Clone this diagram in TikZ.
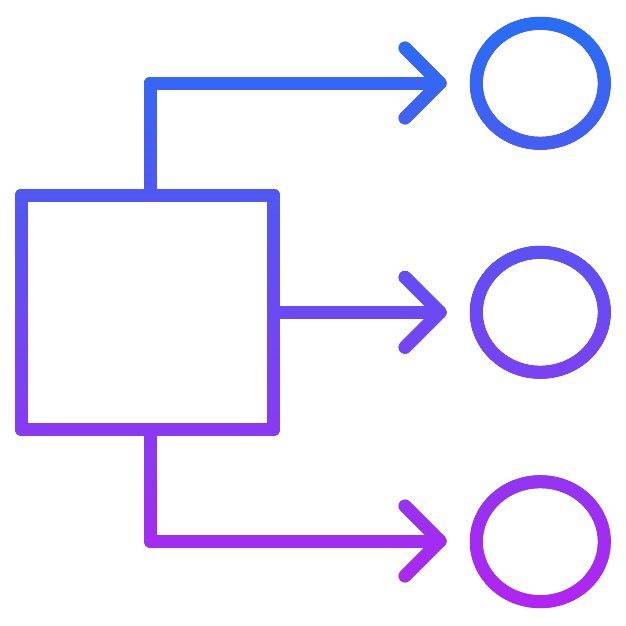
\documentclass[tikz,border=0pt]{standalone}
\usetikzlibrary{calc,shapes.geometric}
\definecolor{topc}{RGB}{35,112,245}
\definecolor{botc}{RGB}{182,34,240}
\begin{document}
\begin{tikzpicture}[x=1pt,y=-1pt,
  link/.style={draw=black, line width=13pt, line join=round, line cap=round},
  box/.style={draw=black, line width=13pt, line join=round, rectangle, minimum width=252pt, minimum height=234.5pt, inner sep=0pt},
  ring/.style={draw=black, line width=13pt, ellipse, minimum width=128pt, minimum height=120pt, inner sep=0pt}]
  \fill[white] (0,0) rectangle (626,626);
  \useasboundingbox (0,0) rectangle (626,626);
  % nodes
  \node[box] (sq) at (147.5,312.3) {};
  \node[ring] (c1) at (540.3,83.3) {};
  \node[ring] (c2) at (540.3,312.3) {};
  \node[ring] (c3) at (540.3,541.7) {};
  % arrow tips
  \coordinate (t1) at (440,83);
  \coordinate (t2) at (440,312.3);
  \coordinate (t3) at (440,541);
  % connectors
  \draw[link] ([xshift=2.5pt]sq.north) |- (t1);
  \draw[link] (sq.east) -- (t2);
  \draw[link] ([xshift=2.5pt]sq.south) |- (t3);
  % chevrons
  \foreach \t in {t1,t2,t3} {
    \draw[link] ($(\t)+(-35,-35)$) -- (\t) -- ($(\t)+(-35,35)$);
  }
  % vertical colour gradient
  \shade[blend mode=lighten, top color=topc, bottom color=botc] (0,0) rectangle (626,626);
\end{tikzpicture}
\end{document}
